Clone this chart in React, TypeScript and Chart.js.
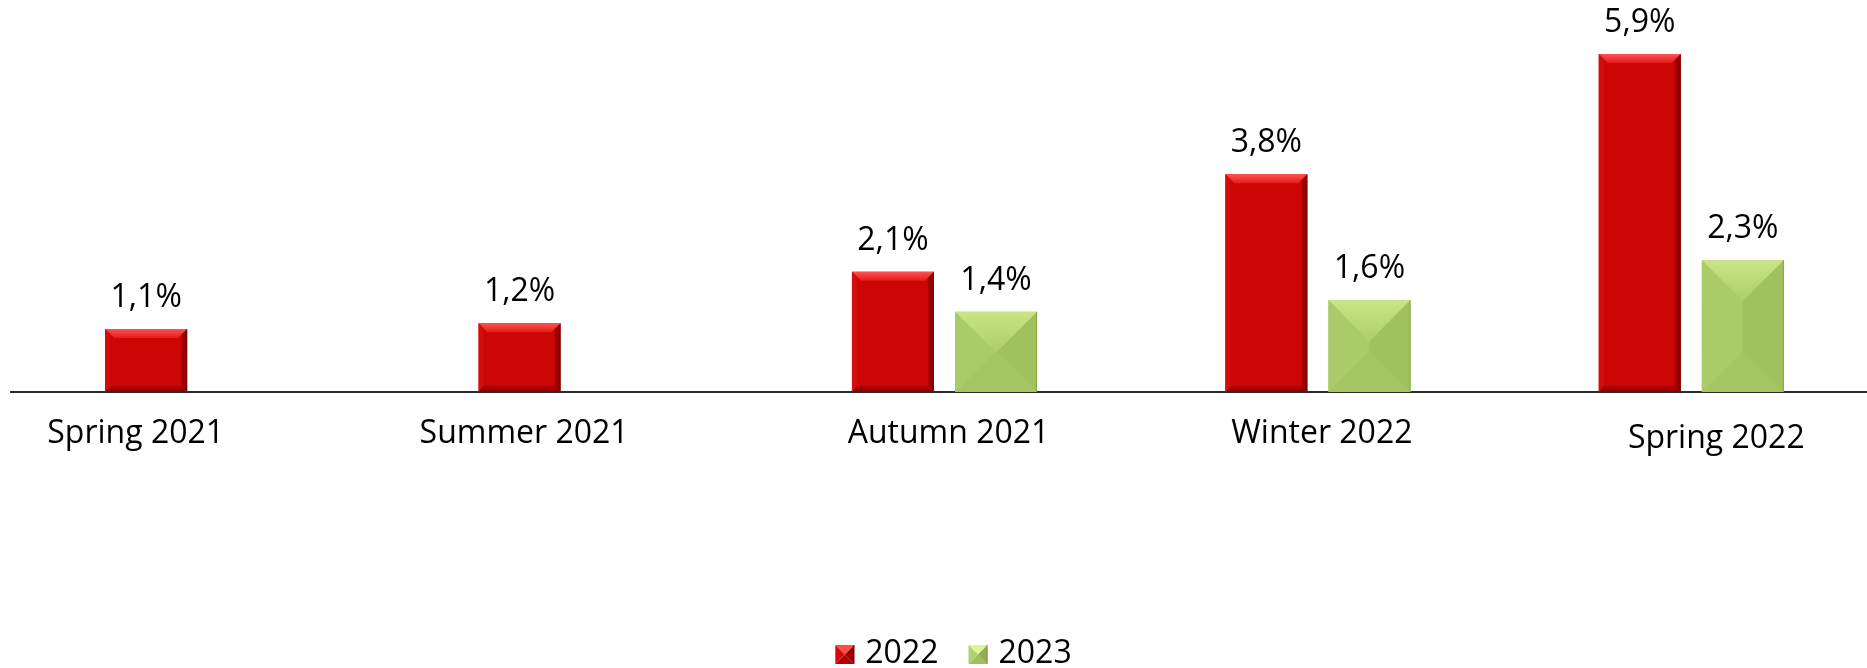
import React, { useEffect, useRef } from "react";
import { Chart, registerables } from "chart.js";

Chart.register(...registerables);

// ---- data ----
const categories = ["Spring 2021", "Summer 2021", "Autumn 2021", "Winter 2022", "Spring 2022"];
const series2022: (number | null)[] = [1.1, 1.2, 2.1, 3.8, 5.9];
const series2023: (number | null)[] = [null, null, 1.4, 1.6, 2.3];
const seriesNames = ["2022", "2023"];

// ---- styling ----
const FONT = '"Open Sans", "Noto Sans", sans-serif';
const FONT_SIZE = 32;
const labelNudgeX = [-62, -47, 4, 4, 25];
const labelNudgeY = [0, 0, 0, 0, 5];

const RED = {
  base: "#cc0505",
  top: ["#ff5252", "#e31b1b"],
  left: "#d30c0c",
  right: ["#b00000", "#7a0000"],
  bottom: ["#b20000", "#8a0000"],
};
const GREEN = {
  base: "#a8c865",
  top: ["#c9e585", "#aecd6b"],
  left: "#aacb67",
  right: "#a1c15f",
  bottom: "#a5c563",
  edge: "#88a74c",
};
const LEGEND_PYR = [
  { top: "#ff4a4a", left: "#d60808", right: "#9a0000", bottom: "#b00000", edge: "#7a0000" },
  { top: "#dbf597", left: "#b2d072", right: "#8fae52", bottom: "#a0bf5e", edge: "#7d9a44" },
];

const fmt = (v: number) => v.toFixed(1).replace(".", ",") + "%";

function poly(ctx: CanvasRenderingContext2D, pts: number[][], fill: any) {
  ctx.beginPath();
  ctx.moveTo(pts[0][0], pts[0][1]);
  for (let k = 1; k < pts.length; k++) ctx.lineTo(pts[k][0], pts[k][1]);
  ctx.closePath();
  ctx.fillStyle = fill;
  ctx.fill();
}

function drawRedBevel(ctx: CanvasRenderingContext2D, L: number, T: number, R: number, B: number) {
  const w = R - L;
  const h = B - T;
  const d = Math.min(9, w / 2, h / 2);
  const gTop = ctx.createLinearGradient(0, T, 0, T + d);
  gTop.addColorStop(0, RED.top[0]);
  gTop.addColorStop(1, RED.top[1]);
  poly(ctx, [[L, T], [R, T], [R - d, T + d], [L + d, T + d]], gTop);
  const ds = Math.min(5, d);
  poly(ctx, [[L, T], [L + ds, T + ds], [L + ds, B - ds], [L, B]], RED.left);
  const gR = ctx.createLinearGradient(R - 6, 0, R, 0);
  gR.addColorStop(0, RED.right[0]);
  gR.addColorStop(1, RED.right[1]);
  poly(ctx, [[R, T], [R, B], [R - 6, B - 6], [R - 6, T + Math.min(d, 6)]], gR);
  const gB = ctx.createLinearGradient(0, B - 6, 0, B);
  gB.addColorStop(0, RED.bottom[0]);
  gB.addColorStop(1, RED.bottom[1]);
  poly(ctx, [[L, B], [R, B], [R - 6, B - 6], [L + ds, B - 6]], gB);
}

function drawPyramid(
  ctx: CanvasRenderingContext2D,
  L: number,
  T: number,
  R: number,
  B: number,
  c: { top: any; left: any; right: any; bottom: any; edge: string }
) {
  const w = R - L;
  const h = B - T;
  const d = Math.min(w, h) / 2;
  poly(ctx, [[L, T], [R, T], [R - d, T + d], [L + d, T + d]], c.top);
  poly(ctx, [[L, B], [R, B], [R - d, B - d], [L + d, B - d]], c.bottom);
  poly(ctx, [[L, T], [L + d, T + d], [L + d, B - d], [L, B]], c.left);
  poly(ctx, [[R, T], [R - d, T + d], [R - d, B - d], [R, B]], c.right);
  ctx.strokeStyle = c.edge;
  ctx.lineWidth = 1;
  ctx.beginPath();
  ctx.moveTo(R - 0.5, T);
  ctx.lineTo(R - 0.5, B);
  ctx.stroke();
}

const decorPlugin = {
  id: "decor",
  afterDatasetsDraw(chart: any) {
    const ctx: CanvasRenderingContext2D = chart.ctx;
    ctx.save();
    chart.data.datasets.forEach((ds: any, di: number) => {
      const meta = chart.getDatasetMeta(di);
      meta.data.forEach((el: any, i: number) => {
        const v = ds.data[i];
        if (v == null) return;
        const { x, y, base, width } = el.getProps(["x", "y", "base", "width"], true);
        const L = x - width / 2;
        const R = x + width / 2;
        const T = Math.min(y, base);
        const B = Math.max(y, base);
        if (di === 0) {
          drawRedBevel(ctx, L, T, R, B);
        } else {
          const d = Math.min(R - L, B - T) / 2;
          const gTop = ctx.createLinearGradient(0, T, 0, T + d);
          gTop.addColorStop(0, GREEN.top[0]);
          gTop.addColorStop(1, GREEN.top[1]);
          drawPyramid(ctx, L, T, R, B, {
            top: gTop,
            left: GREEN.left,
            right: GREEN.right,
            bottom: GREEN.bottom,
            edge: GREEN.edge,
          });
        }
        ctx.font = `${FONT_SIZE}px ${FONT}`;
        ctx.fillStyle = "#000";
        ctx.textAlign = "center";
        ctx.textBaseline = "alphabetic";
        ctx.fillText(fmt(v), x, T - 22);
      });
    });
    ctx.restore();
  },
  afterDraw(chart: any) {
    const ctx: CanvasRenderingContext2D = chart.ctx;
    const area = chart.chartArea;
    const xs = chart.scales.x;
    ctx.save();
    ctx.font = `${FONT_SIZE}px ${FONT}`;
    ctx.fillStyle = "#000";
    ctx.textAlign = "center";
    ctx.textBaseline = "alphabetic";
    categories.forEach((c, i) => {
      ctx.fillText(c, xs.getPixelForValue(i) + labelNudgeX[i], area.bottom + 51 + labelNudgeY[i]);
    });

    // legend
    const box = 19;
    const gap = 11;
    const spacing = 30;
    const widths = seriesNames.map((s) => ctx.measureText(s).width);
    const total = widths.reduce((a, wv) => a + box + gap + wv, 0) + spacing * (seriesNames.length - 1);
    let lx = (area.left + area.right) / 2 + 9 - total / 2;
    const boxTop = area.bottom + 253;
    const baseY = area.bottom + 271;
    ctx.textAlign = "left";
    seriesNames.forEach((s, i) => {
      drawPyramid(ctx, lx, boxTop, lx + box, boxTop + box, LEGEND_PYR[i]);
      ctx.fillStyle = "#000";
      ctx.fillText(s, lx + box + gap, baseY);
      lx += box + gap + widths[i] + spacing;
    });
    ctx.restore();
  },
};

export default function App() {
  const ref = useRef<HTMLCanvasElement | null>(null);
  useEffect(() => {
    document.body.style.margin = "0";
    if (!ref.current) return;
    const chart = new Chart(ref.current, {
      type: "bar",
      data: {
        labels: categories,
        datasets: [
          {
            label: seriesNames[0],
            data: series2022,
            backgroundColor: RED.base,
            borderWidth: 0,
            categoryPercentage: 0.552,
            barPercentage: 0.796,
          },
          {
            label: seriesNames[1],
            data: series2023,
            backgroundColor: GREEN.base,
            borderWidth: 0,
            categoryPercentage: 0.552,
            barPercentage: 0.796,
          },
        ],
      },
      options: {
        animation: false,
        responsive: false,
        maintainAspectRatio: false,
        layout: { padding: { left: 11, right: 0, top: 14, bottom: 276 } },
        plugins: {
          legend: { display: false },
          tooltip: { enabled: false },
          title: { display: false },
        },
        scales: {
          x: {
            grid: { display: false, drawTicks: false },
            ticks: { display: false },
            border: { display: true, color: "#2b2b2b", width: 2 },
          },
          y: {
            display: false,
            min: 0,
            max: 6.6,
          },
        },
      },
      plugins: [decorPlugin],
    });
    return () => chart.destroy();
  }, []);

  return (
    <div style={{ width: 1867, height: 668, overflow: "hidden", position: "relative", background: "#fff" }}>
      <canvas ref={ref} width={1878} height={668} style={{ display: "block" }} />
    </div>
  );
}
